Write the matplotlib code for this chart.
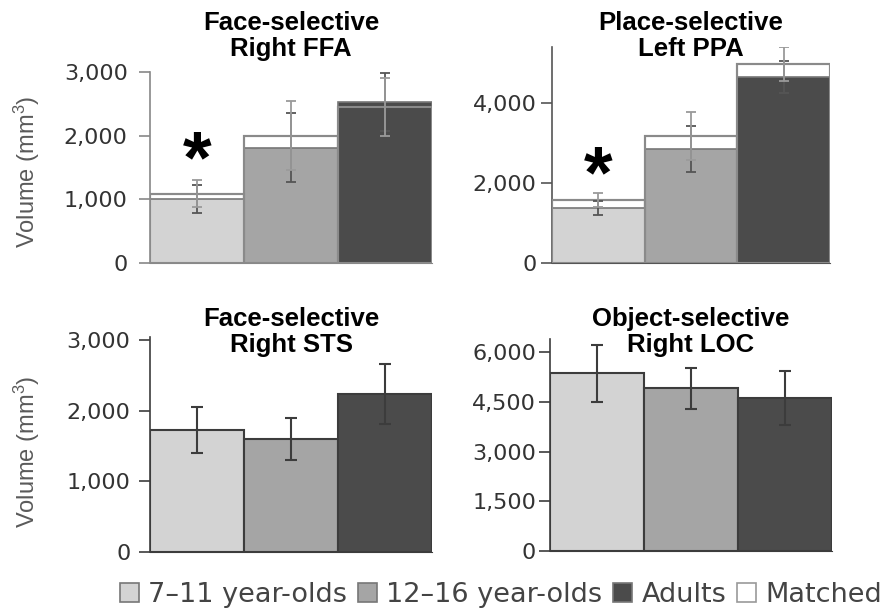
import matplotlib.pyplot as plt
from matplotlib.patches import Patch

plt.rcParams['mathtext.default'] = 'regular'

# volumes (mm^3) per age group: 7-11, 12-16, adults
groups = ['7–11 year-olds', '12–16 year-olds', 'Adults']
colors = ['#d3d3d3', '#a5a5a5', '#4b4b4b']

ffa_mean = [1000, 1810, 2530]
ffa_err = [220, 545, 450]
ffa_matched = [1090, 2000, 2450]
ffa_matched_err = [210, 540, 450]

ppa_mean = [1375, 2850, 4650]
ppa_err = [175, 575, 400]
ppa_matched = [1575, 3175, 4975]
ppa_matched_err = [175, 600, 425]

sts_mean = [1730, 1605, 2240]
sts_err = [320, 300, 420]

loc_mean = [5360, 4910, 4610]
loc_err = [850, 630, 810]

ffa_ticks = [0, 1000, 2000, 3000]
ffa_labels = ['0', '1,000', '2,000', '3,000']
ppa_ticks = [0, 2000, 4000]
ppa_labels = ['0', '2,000', '4,000']
sts_ticks = [0, 1000, 2000, 3000]
sts_labels = ['0', '1,000', '2,000', '3,000']
loc_ticks = [0, 1500, 3000, 4500, 6000]
loc_labels = ['0', '1,500', '3,000', '4,500', '6,000']

fig = plt.figure(figsize=(8.9, 6.1), dpi=100)

ax_ffa = fig.add_axes([0.1685, 0.5689, 0.3169, 0.3131])
ax_ppa = fig.add_axes([0.6202, 0.5689, 0.3124, 0.3541])
ax_sts = fig.add_axes([0.1685, 0.0951, 0.3169, 0.3525])
ax_loc = fig.add_axes([0.618, 0.0967, 0.317, 0.3475])

x = [0, 1, 2]


def style_axis(ax, ticks, labels, top, spine_col, pad=3):
    ax.set_xlim(-0.5, 2.5)
    ax.set_ylim(0, top)
    ax.set_yticks(ticks)
    ax.set_yticklabels(labels, fontsize=16, color='#333333', family='DejaVu Sans')
    ax.set_xticks([])
    for s in ['top', 'right']:
        ax.spines[s].set_visible(False)
    ax.spines['left'].set_color(spine_col)
    ax.spines['bottom'].set_color(spine_col)
    ax.spines['left'].set_linewidth(1.2)
    ax.tick_params(axis='y', direction='out', length=8, width=1.2, color=spine_col, pad=pad)


def matched_panel(ax, mean, err, matched, merr):
    # white matched boxes behind, group bars on top, matched outline over everything
    ax.bar(x, matched, width=1, color='white', edgecolor='#8a8a8a', linewidth=1.5, zorder=1)
    ax.bar(x, mean, width=1, color=colors, edgecolor='#777777', linewidth=1.2, zorder=2)
    ax.bar(x, matched, width=1, color='none', edgecolor='#8a8a8a', linewidth=1.5, zorder=3)
    ax.errorbar(x, mean, yerr=err, fmt='none', ecolor='#555555', elinewidth=1.3,
                capsize=3.5, capthick=1.3, zorder=4)
    ax.errorbar(x, matched, yerr=merr, fmt='none', ecolor='#9a9a9a', elinewidth=1.3,
                capsize=3.5, capthick=1.3, zorder=4)


def plain_panel(ax, mean, err):
    ax.bar(x, mean, width=1, color=colors, edgecolor='#3c3c3c', linewidth=1.5, zorder=2)
    ax.errorbar(x, mean, yerr=err, fmt='none', ecolor='#3c3c3c', elinewidth=1.5,
                capsize=4, capthick=1.5, zorder=3)


star_kw = dict(fontsize=53, fontweight='bold', ha='center', va='center',
               family='Liberation Sans')

matched_panel(ax_ffa, ffa_mean, ffa_err, ffa_matched, ffa_matched_err)
style_axis(ax_ffa, ffa_ticks, ffa_labels, 3000, '#888888', pad=8)
ax_ffa.text(0, 1580, '*', **star_kw)

matched_panel(ax_ppa, ppa_mean, ppa_err, ppa_matched, ppa_matched_err)
style_axis(ax_ppa, ppa_ticks, ppa_labels, 5400, '#555555', pad=3)
ax_ppa.text(0, 2125, '*', **star_kw)

plain_panel(ax_sts, sts_mean, sts_err)
style_axis(ax_sts, sts_ticks, sts_labels, 3050, '#3c3c3c', pad=6)

plain_panel(ax_loc, loc_mean, loc_err)
style_axis(ax_loc, loc_ticks, loc_labels, 6400, '#3c3c3c', pad=2)

# panel titles
title_kw = dict(fontsize=18.5, fontweight='bold', ha='center', va='center',
                family='Liberation Sans', linespacing=1.1)
fig.text(291 / 890, 1 - 36 / 610, 'Face-selective\nRight FFA', **title_kw)
fig.text(691 / 890, 1 - 36 / 610, 'Place-selective\nLeft PPA', **title_kw)
fig.text(291 / 890, 1 - 332 / 610, 'Face-selective\nRight STS', **title_kw)
fig.text(691 / 890, 1 - 332 / 610, 'Object-selective\nRight LOC', **title_kw)

# y-axis labels
ylab_kw = dict(fontsize=17, rotation=90, ha='center', va='center', color='#5a5a5a',
               family='Liberation Sans')
fig.text(27 / 890, 1 - 172 / 610, 'Volume (mm$^3$)', **ylab_kw)
fig.text(27 / 890, 1 - 452 / 610, 'Volume (mm$^3$)', **ylab_kw)

# legend
handles = [Patch(facecolor=c, edgecolor='#777777', linewidth=1.2) for c in colors]
handles.append(Patch(facecolor='white', edgecolor='#999999', linewidth=1.2))
fig.legend(handles, groups + ['Matched'], loc='center', bbox_to_anchor=(0.563, 0.025),
           ncol=4, frameon=False, handlelength=0.7, handleheight=0.7,
           handletextpad=0.35, columnspacing=0.4, borderpad=0,
           prop={'family': 'DejaVu Sans', 'size': 19.5}, labelcolor='#444444')

fig.savefig('out.png', dpi=100)
